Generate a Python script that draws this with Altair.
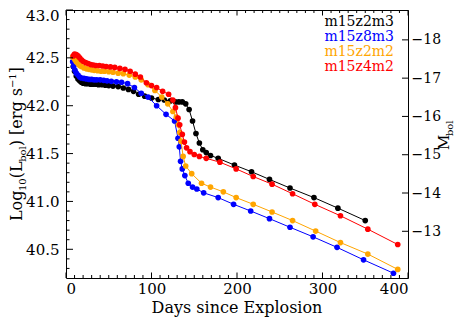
import altair as alt
import pandas as pd

# ---------------- data ----------------
names = ["m15z2m3", "m15z8m3", "m15z2m2", "m15z4m2"]
colors = ["#000000", "#0000ff", "#ffa500", "#ff0000"]

days_m15z2m3 = [8.5, 10, 12, 14, 16, 18, 20, 23, 26, 29, 32, 35, 38, 42, 46, 50, 55, 61, 67, 73, 79, 85,
                92, 100, 108, 115, 122, 128, 132, 136, 140, 144, 148, 152, 156, 160, 164, 169, 178, 197,
                217, 238, 262, 290, 318, 350]
logl_m15z2m3 = [42.41, 42.36, 42.31, 42.28, 42.26, 42.245, 42.235, 42.23, 42.23, 42.225, 42.225, 42.225,
                42.22, 42.22, 42.215, 42.21, 42.205, 42.2, 42.185, 42.17, 42.15, 42.12, 42.10, 42.08,
                42.065, 42.06, 42.05, 42.04, 42.04, 42.04, 42.02, 41.96, 41.84, 41.71, 41.61, 41.54,
                41.51, 41.48, 41.45, 41.38, 41.31, 41.23, 41.14, 41.04, 40.93, 40.80]

days_m15z8m3 = [7.8, 9, 10.5, 12, 14, 16, 18, 21, 24, 27, 30, 33, 36, 40, 44, 48, 53, 59, 65, 72, 80, 88,
                96, 106, 117, 127, 131, 132.5, 134, 136, 139, 143, 148, 153, 161, 178, 196, 216, 238,
                262, 289, 317, 348, 383]
logl_m15z8m3 = [42.46, 42.41, 42.37, 42.34, 42.32, 42.30, 42.29, 42.285, 42.28, 42.275, 42.275, 42.27,
                42.27, 42.27, 42.265, 42.26, 42.255, 42.25, 42.245, 42.23, 42.19, 42.13, 42.09, 42.0,
                41.91, 41.84, 41.66, 41.57, 41.42, 41.34, 41.27, 41.19, 41.15, 41.13, 41.09, 41.04,
                40.97, 40.90, 40.82, 40.73, 40.63, 40.52, 40.39, 40.25]

days_m15z2m2 = [7.8, 9, 10.5, 12, 14, 16, 18, 21, 24, 27, 30, 33, 37, 41, 45, 50, 55, 61, 67, 74, 81, 88,
                96, 104, 112, 119, 125, 129, 131.5, 133, 134.5, 137, 140, 147, 158.5, 169, 184, 199, 219,
                241, 265, 292, 321, 353, 388]
logl_m15z2m2 = [42.51, 42.50, 42.48, 42.46, 42.44, 42.42, 42.41, 42.395, 42.385, 42.38, 42.375, 42.37,
                42.365, 42.36, 42.36, 42.355, 42.35, 42.34, 42.335, 42.32, 42.30, 42.27, 42.22, 42.16,
                42.09, 42.02, 41.94, 41.88, 41.80, 41.72, 41.63, 41.47, 41.37, 41.29, 41.19, 41.15,
                41.10, 41.04, 40.97, 40.89, 40.80, 40.69, 40.57, 40.45, 40.29]

days_m15z4m2 = [8.5, 10, 12, 14, 16, 18, 20, 23, 26, 29, 32, 35, 39, 43, 47, 52, 57, 63, 69, 75, 81, 87,
                94, 100, 106, 113, 120, 125, 128, 131, 133, 136, 138.5, 141, 145, 150, 156, 164, 180,
                199, 219, 241, 265, 291, 321, 353, 388]
logl_m15z4m2 = [42.52, 42.54, 42.535, 42.52, 42.50, 42.48, 42.465, 42.45, 42.44, 42.43, 42.425, 42.42,
                42.42, 42.415, 42.41, 42.405, 42.40, 42.39, 42.38, 42.36, 42.33, 42.30, 42.24, 42.21,
                42.19, 42.15, 42.12, 42.06, 41.98, 41.87, 41.80, 41.70, 41.62, 41.56, 41.52, 41.49,
                41.47, 41.45, 41.41, 41.34, 41.26, 41.18, 41.08, 40.97, 40.85, 40.71, 40.55]

series_days = [days_m15z2m3, days_m15z8m3, days_m15z2m2, days_m15z4m2]
series_logl = [logl_m15z2m3, logl_m15z8m3, logl_m15z2m2, logl_m15z4m2]

x_major = [0, 100, 200, 300, 400]
x_minor = [d for d in range(0, 401, 10) if d % 100 != 0]
y_major = [40.5, 41.0, 41.5, 42.0, 42.5, 43.0]
y_minor = [40.3, 40.4, 40.6, 40.7, 40.8, 40.9, 41.1, 41.2, 41.3, 41.4, 41.6, 41.7, 41.8, 41.9,
           42.1, 42.2, 42.3, 42.4, 42.6, 42.7, 42.8, 42.9]
mbol_major = [-18, -17, -16, -15, -14, -13]
MBOL_ZERO = 88.72  # M_bol = MBOL_ZERO - 2.5 * log10(L)

# ---------------- layout ----------------
W, H = 342, 268
FONT = "DejaVu Serif"
FS = 15

xscale = alt.Scale(domain=[0, 400], nice=False, zero=False)
yscale = alt.Scale(domain=[40.2, 43.0], nice=False, zero=False)
mscale = alt.Scale(domain=[MBOL_ZERO - 2.5 * 43.0, MBOL_ZERO - 2.5 * 40.2], nice=False, zero=False, reverse=True)

xaxis = alt.Axis(values=x_major, format="d", ticks=False, domain=False, grid=False, title=None,
                 labelPadding=3, labelFont=FONT, labelFontSize=FS, labelColor="black")
yaxis = alt.Axis(values=y_major, format=".1f", ticks=False, domain=False, grid=False, title=None,
                 labelPadding=7, labelFont=FONT, labelFontSize=FS, labelColor="black",
                 labelFlush=True, labelFlushOffset=2)
maxis = alt.Axis(values=mbol_major, format="d", ticks=False, domain=False, grid=False, title=None,
                 orient="right", labelPadding=3, labelFont=FONT, labelFontSize=14, labelColor="black")

X = alt.X("day:Q", scale=xscale, axis=xaxis)
Y = alt.Y("logL:Q", scale=yscale, axis=yaxis)

layers = []
for nm, col, dd, ll in zip(names, colors, series_days, series_logl):
    df = pd.DataFrame({"day": dd, "logL": ll})
    base = alt.Chart(df)
    layers.append(base.mark_line(color=col, strokeWidth=1, clip=True).encode(x=X, y=Y, order="day:Q"))
    layers.append(base.mark_circle(color=col, size=32, opacity=1, clip=True).encode(x=X, y=Y))

# inward tick marks
def xticks(vals, length):
    d = pd.DataFrame({"day": vals})
    b = alt.Chart(d).mark_rule(color="black", strokeWidth=1)
    return [b.encode(x=X, y=alt.value(H), y2=alt.value(H - length)),
            b.encode(x=X, y=alt.value(0), y2=alt.value(length))]

def yticks(vals, length):
    d = pd.DataFrame({"logL": vals})
    return [alt.Chart(d).mark_rule(color="black", strokeWidth=1).encode(
        y=Y, x=alt.value(0), x2=alt.value(length))]

layers += xticks(x_major, 5.5) + xticks(x_minor, 3)
layers += yticks(y_major, 7) + yticks(y_minor, 3.5)

# legend texts
for i, (nm, col) in enumerate(zip(names, colors)):
    layers.append(alt.Chart(pd.DataFrame({"t": [nm]})).mark_text(
        align="right", baseline="middle", font=FONT, fontSize=14, color=col).encode(
        text="t:N", x=alt.value(328), y=alt.value(12 + 15 * i)))

# axis titles (rich text built from segments)
def rich_title(segs, x0, y0, angle):
    out = []
    offset = 0.0
    for txt, fs, shift, w in segs:
        out.append(alt.Chart(pd.DataFrame({"t": [txt]})).mark_text(
            align="left", baseline="alphabetic", font=FONT, fontSize=fs, color="black",
            angle=angle, dx=offset, dy=shift).encode(text="t:N", x=alt.value(x0), y=alt.value(y0)))
        offset += w
    return out

TF = 16
left_segs = [("Log", TF, 0, 1.874 * TF), ("10", 10, 4, 1.272 * 10), ("(L", TF, 0, 1.027 * TF),
             ("bol", 10, 4, 1.562 * 10), (") [erg s", TF, 0, 3.634 * TF), ("\u22121", 10, -6, 1.474 * 10),
             ("]", TF, 0, 0.39 * TF)]
layers += rich_title(left_segs, -44, 211, 270)

xtitle = alt.Chart(pd.DataFrame({"t": ["Days since Explosion"]})).mark_text(
    align="center", baseline="alphabetic", font=FONT, fontSize=TF, color="black").encode(
    text="t:N", x=alt.value(W / 2), y=alt.value(H + 35))
layers.append(xtitle)

main = alt.layer(*layers)

# right magnitude axis
mdf = pd.DataFrame({"M": mbol_major})
right_ticks = alt.Chart(mdf).mark_rule(color="black", strokeWidth=1).encode(
    y=alt.Y("M:Q", scale=mscale, axis=maxis), x=alt.value(W), x2=alt.value(W - 6))
right_title = rich_title([("M", 15, 0, 0.926 * 15), ("bol", 10, 4, 1.562 * 10)], 383, 140, 270)
right = alt.layer(right_ticks, *right_title)

chart = alt.layer(main, right).resolve_scale(y="independent").properties(
    width=W, height=H,
    autosize=alt.AutoSizeParams(type="none"),
    padding={"left": 58, "top": 2, "right": 47, "bottom": 39},
).configure_view(stroke="black", strokeWidth=1)

chart.save("out.html", embed_options={"renderer": "svg", "actions": False})
